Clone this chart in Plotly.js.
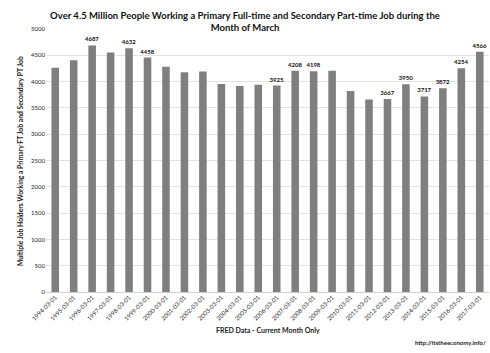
<!DOCTYPE html>
<html><head><meta charset="utf-8">
<script src="https://cdn.plot.ly/plotly-3.0.1.min.js"></script>
<style>html,body{margin:0;padding:0;background:#fff}#c{width:490px;height:353px}</style>
</head><body><div id="c"></div>
<script>
const dates = ["1994-03-01","1995-03-01","1996-03-01","1997-03-01","1998-03-01","1999-03-01","2000-03-01","2001-03-01","2002-03-01","2003-03-01","2004-03-01","2005-03-01","2006-03-01","2007-03-01","2008-03-01","2009-03-01","2010-03-01","2011-03-01","2012-03-01","2013-03-01","2014-03-01","2015-03-01","2016-03-01","2017-03-01"];
const values = [4263,4404,4687,4552,4632,4458,4283,4179,4192,3956,3917,3942,3925,4208,4198,4205,3821,3660,3667,3950,3717,3872,4254,4566];
const labels = ["","","4687","","4632","4458","","","","","","","3925","4208","4198","","","","3667","3950","3717","3872","4254","4566"];
const F = "Lato, 'Open Sans', sans-serif";
Plotly.newPlot('c', [{
  type: 'bar', x: dates, y: values,
  text: labels, textposition: 'outside', cliponaxis: false, constraintext: 'none',
  textfont: {family: F, size: 6, color: '#111', weight: 'bold'},
  marker: {color: '#7f7f7f'},
  hoverinfo: 'none'
}], {
  width: 490, height: 353,
  margin: {l: 46, r: 1, t: 29, b: 61},
  paper_bgcolor: '#fff', plot_bgcolor: '#fff',
  bargap: 0.59,
  showlegend: false,
  title: {text: "<b>Over 4.5 Million People Working a Primary Full-time and Secondary Part-time Job during the<br>Month of March</b>",
    font: {family: F, size: 9.5, color: '#111'}, x: 0.5, xanchor: 'center', y: 0.947, yanchor: 'middle'},
  xaxis: {type: 'category', tickangle: -45, tickfont: {family: F, size: 6, color: '#222'},
    showgrid: false, showline: false, ticks: '', ticklen: 0},
  yaxis: {range: [0, 5000], dtick: 500, tickfont: {family: F, size: 6, color: '#222'},
    gridcolor: '#e3e3e3', gridwidth: 1, zeroline: true, zerolinecolor: '#d0d0d0', showline: false, ticks: '', ticklen: 0},
  annotations: [
    {text: "<b>FRED Data - Current Month Only</b>", xref: 'paper', yref: 'paper', x: 0.5, y: -0.1445,
      xanchor: 'center', yanchor: 'middle', showarrow: false, font: {family: F, size: 7, color: '#222'}},
    {text: "<b>Multiple Job Holders Working a Primary FT Job and Secondary PT Job</b>", xref: 'paper', yref: 'paper',
      x: -0.0587, y: 0.498, textangle: -90, xanchor: 'center', yanchor: 'middle', showarrow: false,
      font: {family: F, size: 6.8, color: '#222'}},
    {text: "<b>http://itstheeconomy.info/</b>", xref: 'paper', yref: 'paper', x: 0.9985, y: -0.193,
      xanchor: 'right', yanchor: 'middle', showarrow: false, font: {family: F, size: 6, color: '#222'}}
  ]
}, {displayModeBar: false, staticPlot: true});
</script></body></html>
